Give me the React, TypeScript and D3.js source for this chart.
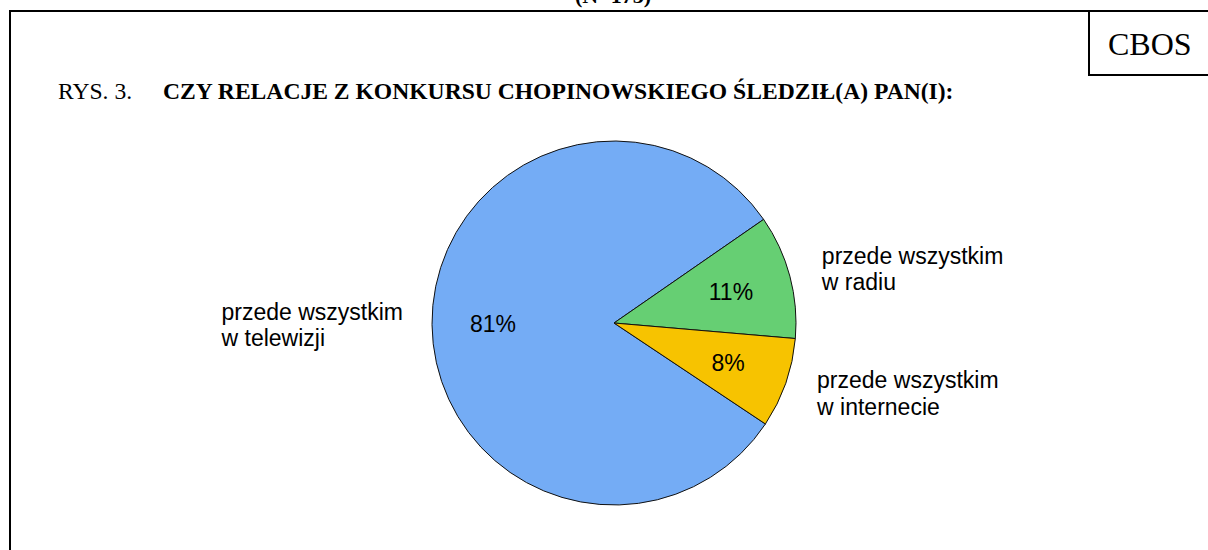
import React, { useRef, useEffect } from 'react';
import * as d3 from 'd3';

// data
const categories = ['przede wszystkim\nw telewizji', 'przede wszystkim\nw radiu', 'przede wszystkim\nw internecie'];
const values = [81, 11, 8];
const colors = ['#74acf5', '#66cf73', '#f7c300'];

const title = 'CZY RELACJE Z KONKURSU CHOPINOWSKIEGO ŚLEDZIŁ(A) PAN(I):';

const W = 1208;
const H = 550;

function PieChart() {
  const svgRef = useRef<SVGSVGElement>(null);

  useEffect(() => {
    const svg = d3.select(svgRef.current);
    svg.selectAll('*').remove();

    // frame
    svg.append('line').attr('x1', 9).attr('x2', W).attr('y1', 11).attr('y2', 11)
      .attr('stroke', '#000').attr('stroke-width', 2);
    svg.append('line').attr('x1', 10).attr('x2', 10).attr('y1', 10).attr('y2', H)
      .attr('stroke', '#000').attr('stroke-width', 2);
    // CBOS box
    svg.append('path').attr('d', `M1089,11V75H${W}`)
      .attr('fill', 'none').attr('stroke', '#000').attr('stroke-width', 2);
    svg.append('text').attr('x', 1108).attr('y', 55)
      .style('font-family', '"Liberation Serif", serif').style('font-size', '32px')
      .text('CBOS');

    // heading cut off at the very top, as in the source page
    svg.append('text').attr('x', 613).attr('y', 3).attr('text-anchor', 'middle')
      .style('font-family', '"Liberation Serif", serif').style('font-size', '22px')
      .style('font-weight', 'bold').text('(N=173)');

    // title
    const t = svg.append('text').attr('y', 98.5)
      .style('font-family', '"Liberation Serif", serif').style('font-size', '23.6px');
    t.append('tspan').attr('x', 58).text('RYS. 3.');
    t.append('tspan').attr('x', 163).style('font-weight', 'bold').text(title);

    // pie
    const cx = 614, cy = 323, r = 182;
    const start = (123.7 * Math.PI) / 180;
    const pie = d3.pie<number>().sort(null).startAngle(start).endAngle(start + 2 * Math.PI);
    const arcs = pie(values);
    const arc = d3.arc<d3.PieArcDatum<number>>().innerRadius(0).outerRadius(r);
    const inLabel = d3.arc<d3.PieArcDatum<number>>().innerRadius(121).outerRadius(121);
    const outLabel = d3.arc<d3.PieArcDatum<number>>().innerRadius(212).outerRadius(212);

    const g = svg.append('g').attr('transform', `translate(${cx},${cy})`);
    g.selectAll('path.slice').data(arcs).join('path')
      .attr('class', 'slice')
      .attr('d', arc)
      .attr('fill', (_, i) => colors[i])
      .attr('stroke', '#111').attr('stroke-width', 1);

    const font = '"Liberation Sans", Arial, sans-serif';
    g.selectAll('text.pct').data(arcs).join('text')
      .attr('class', 'pct')
      .attr('x', d => inLabel.centroid(d)[0])
      .attr('y', d => inLabel.centroid(d)[1] + 8)
      .attr('text-anchor', 'middle')
      .style('font-family', font).style('font-size', '23px')
      .text(d => `${d.data}%`);

    arcs.forEach((d, i) => {
      const [lx, ly] = outLabel.centroid(d);
      const lines = categories[i].split('\n');
      const txt = g.append('text')
        .style('font-family', font).style('font-size', '23px');
      lines.forEach((ln, j) => {
        txt.append('tspan').attr('x', 0).attr('y', ly - 5 + j * 26.5).text(ln);
      });
      const right = lx >= 0;
      const w = (txt.node() as SVGTextElement).getBBox().width;
      const x0 = right ? lx + 3 : lx + 2 - w;
      txt.selectAll('tspan').attr('x', x0);
    });
  }, []);

  return (
    <svg ref={svgRef} width={W} height={H}
      style={{ position: 'absolute', left: 0, top: 0, background: '#fff' }} />
  );
}

export default function App() {
  return <PieChart />;
}
